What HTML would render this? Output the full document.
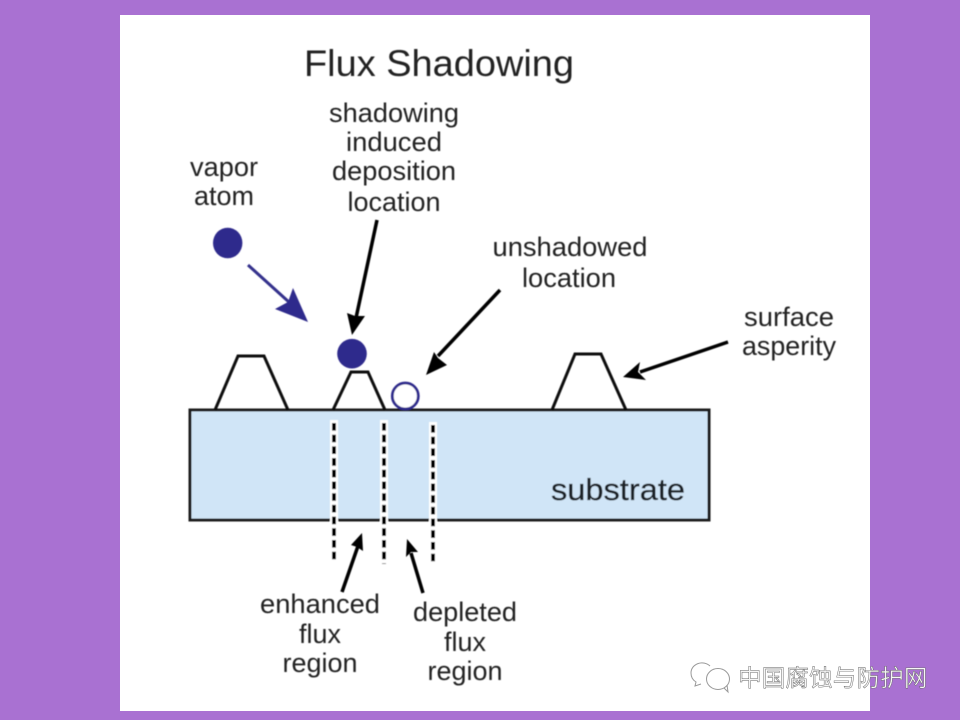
<!DOCTYPE html>
<html>
<head>
<meta charset="utf-8">
<style>
html,body{margin:0;padding:0;background:#a971d2;width:960px;height:720px;overflow:hidden}
svg{display:block;position:absolute;left:0;top:0}
text{font-family:"Liberation Sans",sans-serif;fill:#222;text-anchor:middle}
.l{font-size:27px}
.cjk{font-family:"Liberation Sans","Noto Sans CJK SC",sans-serif;text-anchor:start;font-size:23.5px;fill:#f6f6f6;stroke:#666;stroke-width:.45px;letter-spacing:.2px}
</style>
</head>
<body>
<svg width="960" height="720" viewBox="0 0 960 720" xmlns="http://www.w3.org/2000/svg">
<defs>
<filter id="b" filterUnits="userSpaceOnUse" x="0" y="0" width="960" height="720"><feGaussianBlur stdDeviation="0.5"/></filter>
</defs>
<rect x="0" y="0" width="960" height="720" fill="#a971d2"/>
<rect x="120" y="15" width="750" height="696" fill="#ffffff"/>

<g filter="url(#b)">
<text x="439" y="76" font-size="37" textLength="270" lengthAdjust="spacingAndGlyphs">Flux Shadowing</text>

<text class="l" x="394" y="122" textLength="130" lengthAdjust="spacingAndGlyphs">shadowing</text>
<text class="l" x="394" y="151" textLength="96" lengthAdjust="spacingAndGlyphs">induced</text>
<text class="l" x="394" y="180" textLength="124" lengthAdjust="spacingAndGlyphs">deposition</text>
<text class="l" x="394" y="211" textLength="93" lengthAdjust="spacingAndGlyphs">location</text>

<text class="l" x="224" y="176" textLength="68" lengthAdjust="spacingAndGlyphs">vapor</text>
<text class="l" x="224" y="205" textLength="60" lengthAdjust="spacingAndGlyphs">atom</text>

<text class="l" x="570" y="256" textLength="155" lengthAdjust="spacingAndGlyphs">unshadowed</text>
<text class="l" x="569" y="287" textLength="94" lengthAdjust="spacingAndGlyphs">location</text>

<text class="l" x="789" y="326" textLength="90" lengthAdjust="spacingAndGlyphs">surface</text>
<text class="l" x="789" y="355" textLength="94" lengthAdjust="spacingAndGlyphs">asperity</text>

<text class="l" x="320" y="613" textLength="120" lengthAdjust="spacingAndGlyphs">enhanced</text>
<text class="l" x="320" y="643" textLength="42" lengthAdjust="spacingAndGlyphs">flux</text>
<text class="l" x="320" y="672" textLength="75" lengthAdjust="spacingAndGlyphs">region</text>

<text class="l" x="465" y="621" textLength="104" lengthAdjust="spacingAndGlyphs">depleted</text>
<text class="l" x="465" y="651" textLength="42" lengthAdjust="spacingAndGlyphs">flux</text>
<text class="l" x="465" y="680" textLength="75" lengthAdjust="spacingAndGlyphs">region</text>

<rect x="190" y="410" width="519" height="110" fill="#d0e5f7" stroke="#1a1a1a" stroke-width="3"/>
<text x="618" y="500" font-size="31" textLength="134" lengthAdjust="spacingAndGlyphs" style="fill:#1a2028;stroke:#1a2028;stroke-width:.35px">substrate</text>

<g fill="none" stroke="#111" stroke-width="3">
<path d="M215 410 L238 356 L264 356 L288 410"/>
<path d="M333 410 L351 372 L368 372 L385 410"/>
<path d="M552 410 L575 354 L601 354 L626 410"/>
</g>

<g stroke="#fff" stroke-width="8" fill="none">
<path d="M334 420V562M384 420V565M433 422V565"/>
</g>
<g stroke="#000" stroke-width="4" fill="none" stroke-dasharray="7.6 4.1">
<path d="M334 423V561M384 423V564M433 425V564"/>
</g>

<ellipse cx="227.7" cy="243" rx="14.7" ry="15.3" fill="#2f2a8c"/>
<circle cx="352" cy="353.7" r="14.8" fill="#2f2a8c"/>
<circle cx="405.3" cy="396" r="13" fill="#fff" stroke="#2f2a8c" stroke-width="2.8"/>

<path d="M248 265 L290 303" stroke="#35328c" stroke-width="3" fill="none"/>
<path d="M308 322 L275 309 L288 302 L293 288 Z" fill="#2f2a8c"/>

<g stroke="#000" stroke-width="3.5" fill="none">
<path d="M377 220 L356 318"/>
<path d="M500 290 L438 356"/>
<path d="M728 342 L640 372"/>
<path d="M342 592 L358 546"/>
<path d="M423 593 L411 553"/>
</g>
<g fill="#000">
<path d="M352 335 L347 313 L355 316 L365 316 Z"/>
<path d="M426 375 L434 352 L438 358 L447 365 Z"/>
<path d="M623 377 L640 362 L638 372 L646 380 Z"/>
<path d="M362 533 L363 551 L357 547 L351 545 Z"/>
<path d="M407 539 L418 552 L411 552 L406 557 Z"/>
</g>
</g>

<g fill="none" stroke="#999" stroke-width="1">
<path d="M710 666 a11 10 0 0 0 -19 7 q0 6 5 9 l-1 4 l6 -2"/>
<ellipse cx="718" cy="679" rx="11.5" ry="10.5"/>
<path d="M724 688 l4 4 l-1 -7"/>
</g>
<text class="cjk" x="738" y="686">中国腐蚀与防护网</text>
</svg>
</body>
</html>
